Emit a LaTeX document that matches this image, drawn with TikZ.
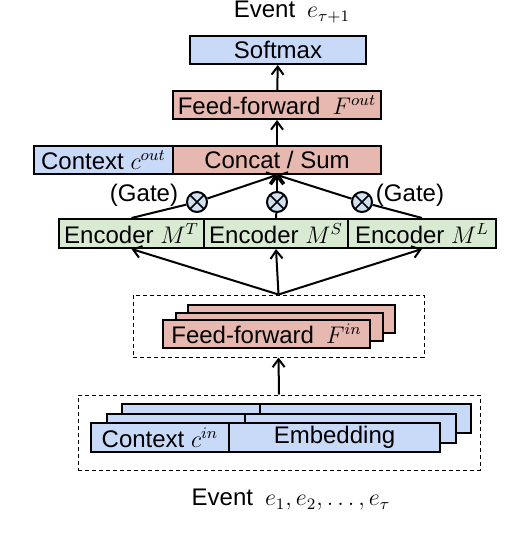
\documentclass[tikz,border=0pt]{standalone}
\usepackage[no-math]{fontspec}
\setmainfont{Liberation Sans}
\usepackage{amsmath,amssymb}
\usetikzlibrary{arrows.meta}
\definecolor{boxblue}{HTML}{C9DAF8}
\definecolor{boxpink}{HTML}{E6B8AF}
\definecolor{boxgreen}{HTML}{D9EAD3}
\definecolor{gateblue}{HTML}{CFE2F3}
\begin{document}
\begin{tikzpicture}[x=0.5pt,y=-0.5pt,line width=1pt,>={Straight Barb[length=4pt,width=6pt]}]
      \tikzstyle{every node}=[font=\fontsize{12}{14}\selectfont]
      \tikzstyle{layer}=[draw,minimum height=14pt,inner sep=0pt]
      \tikzstyle{bluebox}=[layer,fill=boxblue]
      \tikzstyle{pinkbox}=[layer,fill=boxpink]
      \tikzstyle{greenbox}=[layer,fill=boxgreen,minimum height=14.5pt]
      \tikzstyle{dashbox}=[draw,line width=0.5pt,dash pattern=on 2pt off 1.5pt,
			   inner sep=0pt]
      \tikzstyle{gate}=[draw,circle,fill=gateblue,minimum size=10pt,inner sep=0pt,
			path picture={\draw[line width=0.8pt]
			  (path picture bounding box.north west) -- (path picture bounding box.south east)
			  (path picture bounding box.north east) -- (path picture bounding box.south west);}]
      \useasboundingbox (0,0) rectangle (526,540);
      % output side
      \node (output) at (292,12) {Event\enspace$e_{\tau+1}$};
      \node (softmax) [bluebox,minimum width=88pt] at (278,50) {Softmax};
      \node (ffout) [pinkbox,minimum width=104pt] at (277,105) {Feed-forward\enspace$F^{out}$};
      \node (ctxout) [bluebox,minimum width=69.5pt] at (103.5,160) {Context $c^{out}$};
      \node (concat) [pinkbox,minimum width=104pt] at (277,160) {Concat / Sum};
      \draw[->] (concat) -- (ffout);
      \draw[->] (ffout) -- (softmax);
      % encoders and gates
      \node (encT) [greenbox,minimum width=72.5pt] at (131.5,233.5) {Encoder $M^T$};
      \node (encS) [greenbox,minimum width=72pt] at (276,233.5) {Encoder $M^S$};
      \node (encL) [greenbox,minimum width=74pt] at (422,233.5) {Encoder $M^L$};
      \node (gateT) [gate] at (197,202) {};
      \node (gateS) [gate] at (277,202) {};
      \node (gateL) [gate] at (362,202) {};
      \node (gatelblT) at (144,195) {(Gate)};
      \node (gatelblL) at (410,195) {(Gate)};
      \foreach \g/\e in {gateT/encT,gateS/encS,gateL/encL} {
	\draw (\e.north) -- (\g);
	\draw[->] (\g) -- (concat.south);
      }
      % input feed-forward
      \node (ffbox) [dashbox,minimum width=145.5pt,minimum height=31pt] at (278.5,326) {};
      \foreach \i/\dx/\dy in {3/25/-15,2/12.5/-7.5}
	\node (ffin\i) [pinkbox,minimum width=103.5pt] at (266.5+\dx,334+\dy) {};
      \node (ffin1) [pinkbox,minimum width=103.5pt] at (266.5,334) {Feed-forward\enspace$F^{in}$};
      \foreach \e in {encT,encS,encL}
	\draw[->] (ffbox.north) -- (\e.south);
      % input embedding
      \node (embbox) [dashbox,minimum width=201pt,minimum height=37.5pt] at (279,432.5) {};
      \foreach \i/\dx/\dy in {3/31/-19,2/15.5/-9.5} {
	\node (ctxin\i) [bluebox,minimum width=69pt,minimum height=14.5pt] at (160+\dx,437.5+\dy) {};
	\node (emb\i) [bluebox,minimum width=105.5pt,minimum height=14.5pt] at (334.5+\dx,437.5+\dy) {};
      }
      \node (ctxin1) [bluebox,minimum width=69pt,minimum height=14.5pt] at (160,437.5) {Context $c^{in}$};
      \node (emb1) [bluebox,minimum width=105.5pt,minimum height=14.5pt] at (334.5,437.5) {Embedding};
      \draw[->] (embbox.north) -- (ffbox.south);
      \node (input) at (291,500) {Event\enspace$e_1, e_2, \ldots, e_\tau$};
\end{tikzpicture}
\end{document}
